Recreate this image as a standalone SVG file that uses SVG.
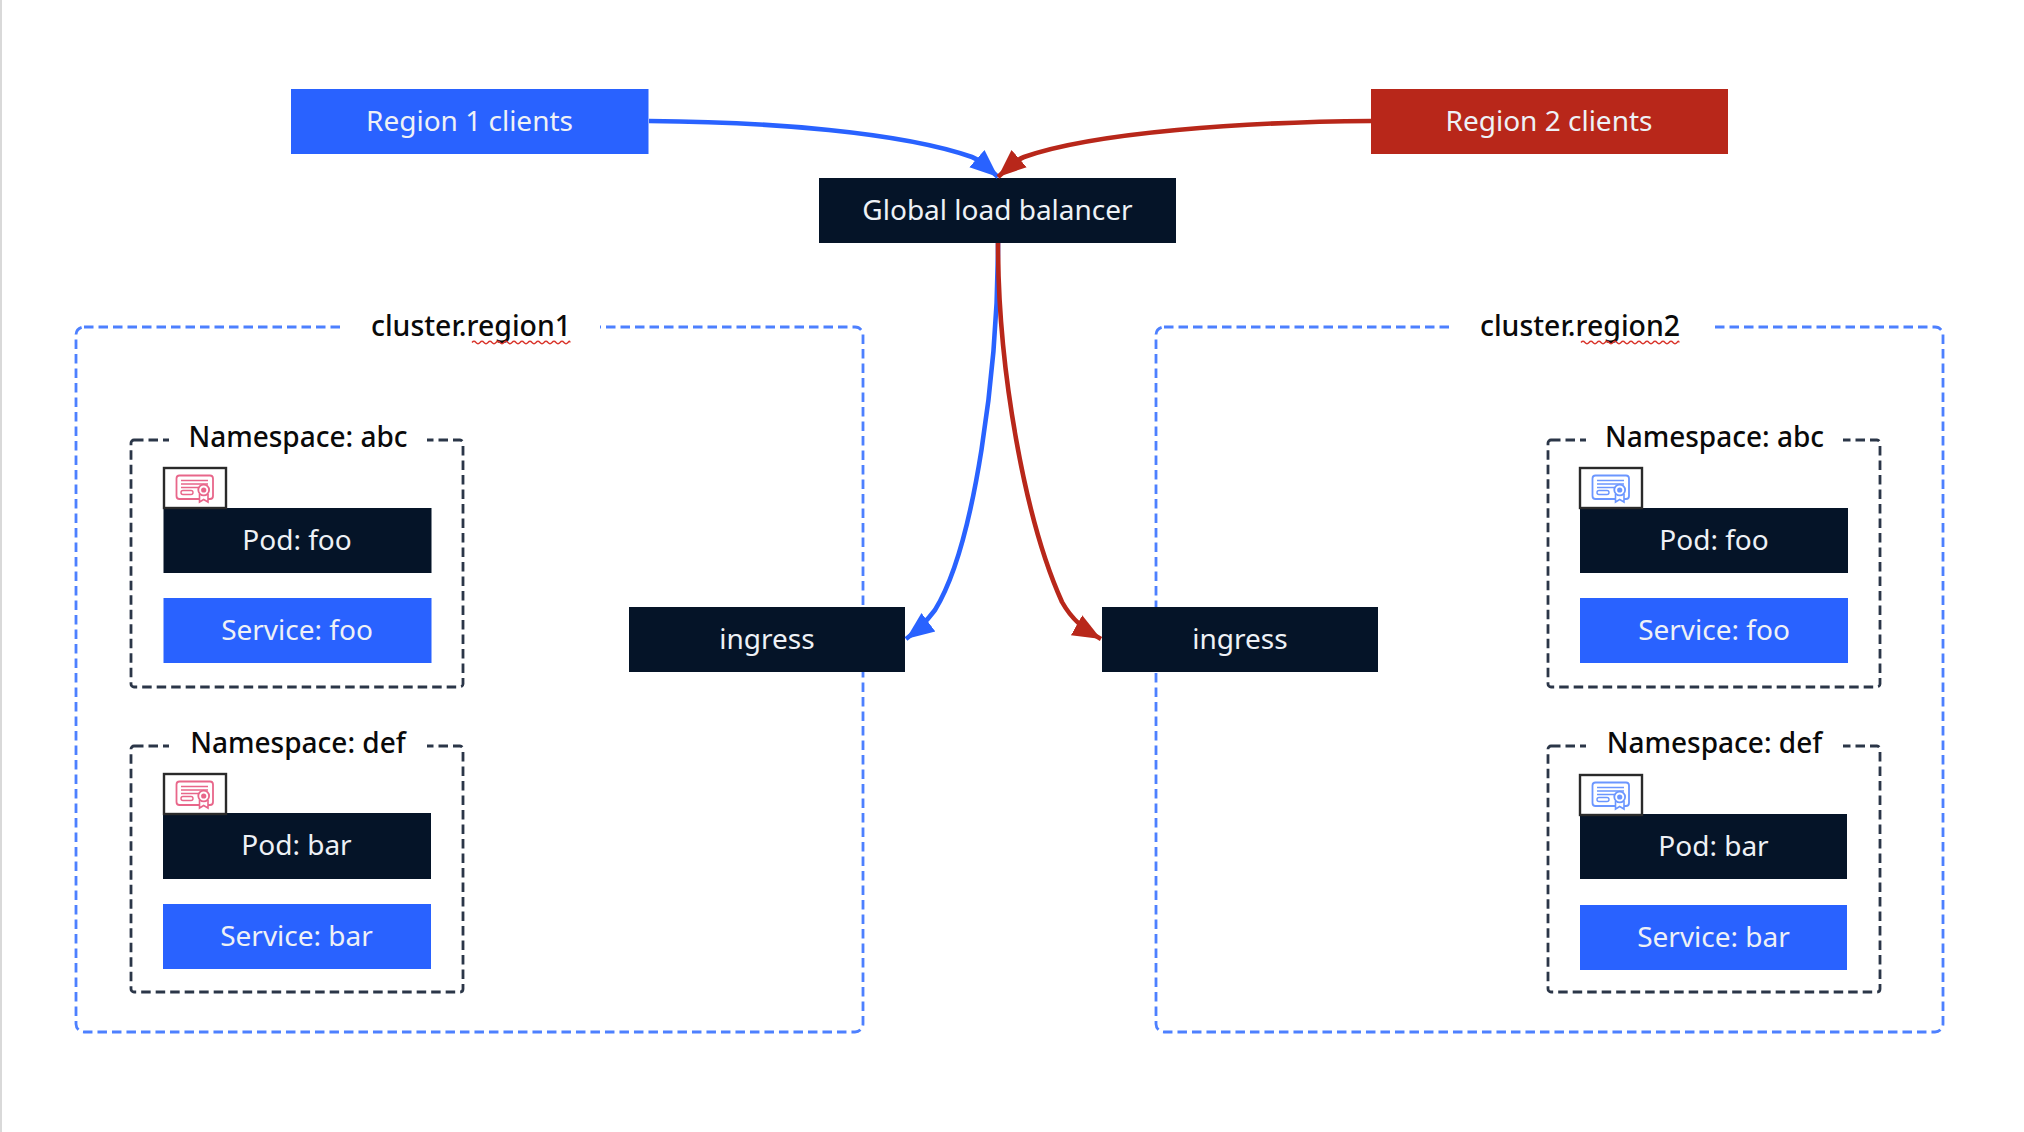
<svg xmlns="http://www.w3.org/2000/svg" width="2024" height="1132" viewBox="0 0 2024 1132">
<style>
text{font-family:"Noto Sans","Open Sans","DejaVu Sans",sans-serif;font-size:28px;text-anchor:middle}
.w{fill:#eef1f6}
.k{fill:#0a0a0a;font-weight:500}
.c{font-size:28.4px}
.dark{fill:#051428}
.blue{fill:#2962ff}
.red{fill:#b8271a}
.cluster{fill:none;stroke:#4d80ff;stroke-width:2.8;stroke-dasharray:9.500 5}
.ns{fill:none;stroke:#2b3648;stroke-width:2.8;stroke-dasharray:9.500 5}
.gap{fill:#fff}
.conn{fill:none;stroke-width:4.6}
.squig{fill:none;stroke:#d9352c;stroke-width:1.3}
.ibox{fill:#fff;stroke:#2a2a2a;stroke-width:2.4}
.pink{color:#e8668a}
.lblue{color:#6b96ff}
</style>
<defs>
<marker id="ab" markerUnits="userSpaceOnUse" markerWidth="30" markerHeight="26" refX="28" refY="13" orient="auto"><path d="M0 1.500L28 13L0 24.500Z" fill="#2962ff"/></marker>
<marker id="ar" markerUnits="userSpaceOnUse" markerWidth="30" markerHeight="26" refX="28" refY="13" orient="auto"><path d="M0 1.500L28 13L0 24.500Z" fill="#b8271a"/></marker>
<g id="cert">
<rect x="12.500" y="7.500" width="36.500" height="23.500" rx="3" fill="none" stroke="currentColor" stroke-width="1.800"/>
<path d="M17 12.500H44M17 16H44M17 19.500H44" fill="none" stroke="currentColor" stroke-width="1.400"/>
<rect x="17" y="22.500" width="12" height="4" rx="2" fill="none" stroke="currentColor" stroke-width="1.400"/>
<path d="M35.500 26V34L39.700 31.500L44 34V26" fill="#fff" stroke="currentColor" stroke-width="1.600"/>
<circle cx="39.700" cy="22" r="5.400" fill="#fff" stroke="currentColor" stroke-width="1.800"/>
<circle cx="39.700" cy="22" r="2.600" fill="currentColor"/>
</g>
</defs>
<rect id="edge" x="0" y="0" width="2" height="1132" fill="#d9d9d9"/>

<g id="cluster1">
<rect class="cluster" x="76" y="327" width="787" height="705" rx="8"/>
<rect class="gap" x="345" y="315" width="255" height="28"/>
<text class="k c" x="471" y="336">cluster.region1</text>
<path class="squig" d="M472 342.500q2-2.500 4 0t4 0t4 0t4 0t4 0t4 0t4 0t4 0t4 0t4 0t4 0t4 0t4 0t4 0t4 0t4 0t4 0t4 0t4 0t4 0t4 0t4 0t4 0t4 0t2 0"/>
</g>
<g id="cluster2">
<rect class="cluster" x="1156" y="327" width="787" height="705" rx="8"/>
<rect class="gap" x="1453" y="315" width="257" height="28"/>
<text class="k c" x="1580" y="336">cluster.region2</text>
<path class="squig" d="M1581 342.500q2-2.500 4 0t4 0t4 0t4 0t4 0t4 0t4 0t4 0t4 0t4 0t4 0t4 0t4 0t4 0t4 0t4 0t4 0t4 0t4 0t4 0t4 0t4 0t4 0t4 0t2 0"/>
</g>

<g id="ns-abc-1">
<rect class="ns" x="131" y="440" width="332" height="247" rx="3"/>
<rect class="gap" x="169" y="425" width="258" height="28"/>
<text class="k" x="298" y="447">Namespace: abc</text>
</g>
<g id="ns-def-1">
<rect class="ns" x="131" y="746" width="332" height="246" rx="3"/>
<rect class="gap" x="169" y="731" width="258" height="28"/>
<text class="k" x="298" y="753">Namespace: def</text>
</g>
<g id="ns-abc-2">
<rect class="ns" x="1548" y="440" width="332" height="247" rx="3"/>
<rect class="gap" x="1586" y="425" width="257" height="28"/>
<text class="k" x="1714.500" y="447">Namespace: abc</text>
</g>
<g id="ns-def-2">
<rect class="ns" x="1548" y="746" width="332" height="246" rx="3"/>
<rect class="gap" x="1586" y="731" width="257" height="28"/>
<text class="k" x="1714.500" y="753">Namespace: def</text>
</g>

<g id="region1"><rect class="blue" x="291" y="89" width="357.500" height="65"/><text class="w" x="469.500" y="131">Region 1 clients</text></g>
<g id="region2"><rect class="red" x="1371" y="89" width="357" height="65"/><text class="w" x="1549" y="131">Region 2 clients</text></g>
<g id="glb"><rect class="dark" x="819" y="178" width="357" height="65"/><text class="w" x="997.500" y="220">Global load balancer</text></g>
<g id="ingress1"><rect class="dark" x="629" y="607" width="276" height="65"/><text class="w" x="767" y="649">ingress</text></g>
<g id="ingress2"><rect class="dark" x="1102" y="607" width="276" height="65"/><text class="w" x="1240" y="649">ingress</text></g>

<g id="pod-foo-1"><rect class="dark" x="163.500" y="508" width="268" height="65"/><text class="w" x="297" y="550">Pod: foo</text><g class="pink" transform="translate(164 468)"><rect class="ibox" width="62" height="40"/><use href="#cert"/></g></g>
<g id="svc-foo-1"><rect class="blue" x="163.500" y="598" width="268" height="65"/><text class="w" x="297" y="640">Service: foo</text></g>
<g id="pod-bar-1"><rect class="dark" x="163" y="813" width="268" height="66"/><text class="w" x="296.500" y="855">Pod: bar</text><g class="pink" transform="translate(164 774)"><rect class="ibox" width="62" height="40"/><use href="#cert"/></g></g>
<g id="svc-bar-1"><rect class="blue" x="163" y="904" width="268" height="65"/><text class="w" x="296.500" y="946">Service: bar</text></g>

<g id="pod-foo-2"><rect class="dark" x="1580" y="508" width="268" height="65"/><text class="w" x="1714" y="550">Pod: foo</text><g class="lblue" transform="translate(1580 468)"><rect class="ibox" width="62" height="40"/><use href="#cert"/></g></g>
<g id="svc-foo-2"><rect class="blue" x="1580" y="598" width="268" height="65"/><text class="w" x="1714" y="640">Service: foo</text></g>
<g id="pod-bar-2"><rect class="dark" x="1580" y="814" width="267" height="65"/><text class="w" x="1713.500" y="856">Pod: bar</text><g class="lblue" transform="translate(1580 775)"><rect class="ibox" width="62" height="40"/><use href="#cert"/></g></g>
<g id="svc-bar-2"><rect class="blue" x="1580" y="905" width="267" height="65"/><text class="w" x="1713.500" y="947">Service: bar</text></g>

<g id="connectors">
<path class="conn" stroke="#2962ff" marker-end="url(#ab)" d="M649 121C770 122 900 132 972 157C982 161 990 170 998 177"/>
<path class="conn" stroke="#b8271a" marker-end="url(#ar)" d="M1371 121C1245 122 1095 132 1024 157C1014 161 1006 170 998 177"/>
<path class="conn" stroke="#2962ff" marker-end="url(#ab)" d="M998 243C998 370 975 545 935 610C926 622 918 630 906 639"/>
<path class="conn" stroke="#b8271a" marker-end="url(#ar)" d="M998 243C998 370 1025 520 1062 602C1072 620 1085 630 1101 639"/>
</g>
</svg>
